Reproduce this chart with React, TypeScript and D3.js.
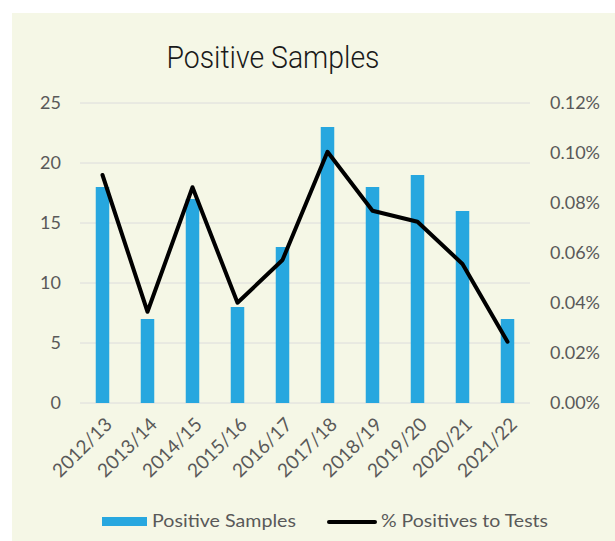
import React from "react";
import * as d3 from "d3";

const categories = ["2012/13", "2013/14", "2014/15", "2015/16", "2016/17", "2017/18", "2018/19", "2019/20", "2020/21", "2021/22"];
const positiveSamples = [18, 7, 17, 8, 13, 23, 18, 19, 16, 7];
const pctPositives = [0.000912, 0.000365, 0.000863, 0.000401, 0.000572, 0.001005, 0.000769, 0.000725, 0.000556, 0.000245];
const leftTicks = [0, 5, 10, 15, 20, 25];
const rightTicks = [0, 0.0002, 0.0004, 0.0006, 0.0008, 0.001, 0.0012];

const W = 615;
const H = 541;
const plot = { left: 80, right: 530, top: 103, bottom: 403 };
const labelFont = "Lato, 'Open Sans', sans-serif";
const textColor = "#595959";
const barColor = "#27a7df";

export default function App() {
  const x = d3.scaleBand<string>().domain(categories).range([plot.left, plot.right]).paddingInner(0.7).paddingOuter(0.35);
  const yL = d3.scaleLinear().domain([0, 25]).range([plot.bottom, plot.top]);
  const yR = d3.scaleLinear().domain([0, 0.0012]).range([plot.bottom, plot.top]);
  const cx = (c: string) => (x(c) ?? 0) + x.bandwidth() / 2;
  const line = d3
    .line<number>()
    .x((_, i) => cx(categories[i]))
    .y((d) => yR(d));
  const fmt = d3.format(".2%");

  return (
    <svg width={W} height={H} style={{ position: "absolute", left: 0, top: 0 }}>
      <rect x={0} y={0} width={W} height={H} fill="#ffffff" />
      <rect x={12} y={13} width={W - 12} height={H - 13} fill="#f5f7e6" />
      <text x={273} y={68} textAnchor="middle" fontFamily="Roboto, sans-serif" fontWeight={300} fontSize={31} fill="#1a1a1a" textLength={213} lengthAdjust="spacingAndGlyphs">
        Positive Samples
      </text>
      {leftTicks.map((t) => (
        <line key={"g" + t} x1={plot.left} x2={plot.right} y1={yL(t)} y2={yL(t)} stroke="#dcdcdc" strokeWidth={1} />
      ))}
      {leftTicks.map((t) => (
        <text key={"l" + t} x={61} y={yL(t)} dy="0.35em" textAnchor="end" fontFamily={labelFont} fontSize={18} fill={textColor}>
          {t}
        </text>
      ))}
      {rightTicks.map((t) => (
        <text key={"r" + t} x={550} y={yR(t)} dy="0.35em" textAnchor="start" fontFamily={labelFont} fontSize={18} fill={textColor}>
          {fmt(t)}
        </text>
      ))}
      {categories.map((c, i) => (
        <rect key={"b" + c} x={x(c)} y={yL(positiveSamples[i])} width={x.bandwidth()} height={yL(0) - yL(positiveSamples[i])} fill={barColor} />
      ))}
      <path d={line(pctPositives) ?? ""} fill="none" stroke="#000" strokeWidth={4} strokeLinejoin="round" strokeLinecap="round" />
      {categories.map((c) => (
        <text
          key={"x" + c}
          transform={`translate(${cx(c) + 6},${421}) rotate(-45)`}
          dy="0.35em"
          textAnchor="end"
          fontFamily={labelFont}
          fontSize={19}
          fill={textColor}
        >
          {c}
        </text>
      ))}
      <rect x={102} y={517} width={45} height={9} fill={barColor} />
      <text x={152} y={527} fontFamily={labelFont} fontSize={17} fill={textColor} textLength={144} lengthAdjust="spacingAndGlyphs">
        Positive Samples
      </text>
      <line x1={329} x2={375} y1={522} y2={522} stroke="#000" strokeWidth={4} strokeLinecap="round" />
      <text x={381} y={527} fontFamily={labelFont} fontSize={17} fill={textColor} textLength={167} lengthAdjust="spacingAndGlyphs">
        % Positives to Tests
      </text>
    </svg>
  );
}
